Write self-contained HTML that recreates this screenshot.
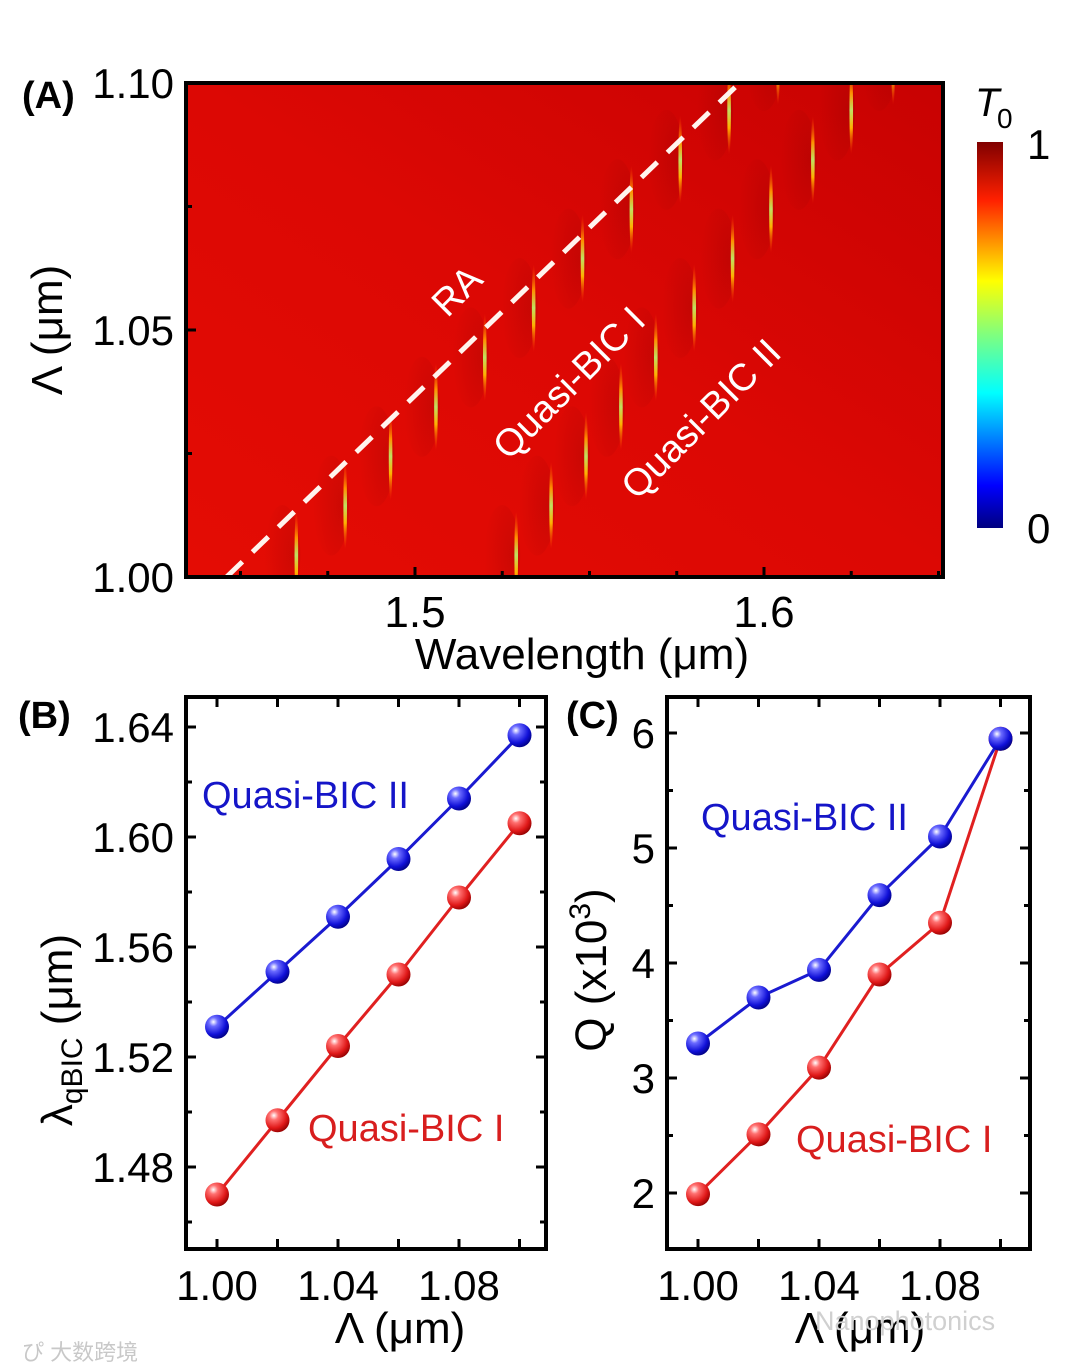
<!DOCTYPE html>
<html><head><meta charset="utf-8">
<style>
html,body{margin:0;padding:0;background:#fff;}
svg{display:block;font-family:"Liberation Sans",Arial,sans-serif;}
</style></head>
<body>
<svg id="fig" width="1080" height="1371" viewBox="0 0 1080 1371" xmlns="http://www.w3.org/2000/svg">
<defs>
  <linearGradient id="bgA" x1="0" y1="1" x2="1" y2="0">
    <stop offset="0" stop-color="#e40c04"/>
    <stop offset="0.5" stop-color="#dc0804"/>
    <stop offset="1" stop-color="#c80202"/>
  </linearGradient>
  <linearGradient id="jet" x1="0" y1="1" x2="0" y2="0">
    <stop offset="0" stop-color="#00007f"/>
    <stop offset="0.11" stop-color="#0000ff"/>
    <stop offset="0.35" stop-color="#00ffff"/>
    <stop offset="0.5" stop-color="#7fff7f"/>
    <stop offset="0.64" stop-color="#ffff00"/>
    <stop offset="0.85" stop-color="#ff2000"/>
    <stop offset="1" stop-color="#800000"/>
  </linearGradient>
  <linearGradient id="streak" x1="0" y1="0" x2="0" y2="1">
    <stop offset="0" stop-color="#ff4000" stop-opacity="0"/>
    <stop offset="0.3" stop-color="#ff9000"/>
    <stop offset="0.5" stop-color="#c0e060"/>
    <stop offset="0.7" stop-color="#ffb000"/>
    <stop offset="1" stop-color="#ff4000" stop-opacity="0"/>
  </linearGradient>
  <radialGradient id="ballB" cx="0.35" cy="0.3" r="0.75">
    <stop offset="0" stop-color="#ffffff"/>
    <stop offset="0.25" stop-color="#6a6aff"/>
    <stop offset="0.7" stop-color="#1010d8"/>
    <stop offset="1" stop-color="#000080"/>
  </radialGradient>
  <radialGradient id="ballR" cx="0.35" cy="0.3" r="0.75">
    <stop offset="0" stop-color="#ffffff"/>
    <stop offset="0.25" stop-color="#ff7070"/>
    <stop offset="0.7" stop-color="#e01818"/>
    <stop offset="1" stop-color="#900000"/>
  </radialGradient>
  <radialGradient id="shadow" cx="0.8" cy="0.5" r="0.8">
    <stop offset="0" stop-color="#700000" stop-opacity="0.18"/>
    <stop offset="1" stop-color="#700000" stop-opacity="0"/>
  </radialGradient>
  <clipPath id="clipA"><rect x="186" y="83" width="757" height="494"/></clipPath>
</defs>
<g id="panelA"></g>
<g id="panelB"></g>
<g id="panelC"></g>
<text x="22" y="1360" font-size="22" fill="#c8c8c8" font-family="'Liberation Sans','Noto Sans CJK SC',sans-serif">ぴ 大数跨境</text>
<text x="815" y="1330" font-size="27" fill="#d0d0d0">Nanophotonics</text>
</svg>
<script>
// Panel A data
const streakPeriods1 = [1.00,1.01,1.02,1.03,1.04,1.05,1.06,1.07,1.08,1.09,1.10];
const streakLambda1 = [1.466,1.480,1.493,1.506,1.520,1.534,1.548,1.562,1.576,1.590,1.604];
const streakPeriods2 = [1.00,1.01,1.02,1.03,1.04,1.05,1.06,1.07,1.08,1.09,1.10];
const streakLambda2 = [1.529,1.539,1.549,1.559,1.569,1.580,1.591,1.602,1.614,1.625,1.637];
const raLambda = [1.4460,1.5930];
const raPeriod = [1.00,1.10];
const aXTicks = [1.5,1.6];
const aYTicks = [1.00,1.05,1.10];
// Panel B data
const periods = [1.00,1.02,1.04,1.06,1.08,1.10];
const lambdaII = [1.531,1.551,1.571,1.592,1.614,1.637];
const lambdaI = [1.470,1.497,1.524,1.550,1.578,1.605];
const bXTicks = [1.00,1.04,1.08];
const bYTicks = [1.48,1.52,1.56,1.60,1.64];
// Panel C data
const qII = [3.30,3.70,3.94,4.59,5.10,5.95];
const qI = [1.99,2.51,3.09,3.90,4.35,5.95];
const cYTicks = [2,3,4,5,6];

const NS="http://www.w3.org/2000/svg";
function mk(parent,tag,attrs,text){const e=document.createElementNS(NS,tag);for(const k in attrs)e.setAttribute(k,attrs[k]);if(text!==undefined)e.textContent=text;parent.appendChild(e);return e;}
function lin(d0,d1,r0,r1){return v=>r0+(v-d0)*(r1-r0)/(d1-d0);}

// ---------- Panel A ----------
(function(){
const g=document.getElementById('panelA');
const X=lin(1.5,1.6,415,764), Y=lin(1.00,1.10,577,83);
let e=mk(g,'rect',{x:186,y:83,width:757,height:494,fill:'url(#bgA)'});

const cg=mk(g,'g',{'clip-path':'url(#clipA)'});
function drawStreaks(P,L,name){
  for(let i=0;i<P.length;i++){
    const x=X(L[i]), y=Y(P[i])-22;
    mk(cg,'ellipse',{cx:x-14,cy:y,rx:18,ry:50,fill:'url(#shadow)'});
    e=mk(cg,'ellipse',{cx:x,cy:y,rx:1.8,ry:44,fill:'url(#streak)'});
    
    
  }
}
drawStreaks(streakPeriods1,streakLambda1,'streak-quasi-bic-i');
drawStreaks(streakPeriods2,streakLambda2,'streak-quasi-bic-ii');
e=mk(cg,'line',{x1:X(raLambda[0]),y1:Y(raPeriod[0]),x2:X(raLambda[1]),y2:Y(raPeriod[1]),stroke:'#fff4ee','stroke-width':5,'stroke-dasharray':'22 14'});

e=mk(g,'rect',{x:186,y:83,width:757,height:494,fill:'none',stroke:'#000','stroke-width':4});

for(let v=1.45;v<=1.65;v+=0.025){const x=X(v);if(x<188||x>941)continue;const big=Math.abs(v*10-Math.round(v*10))<1e-6;mk(g,'line',{x1:x,y1:577,x2:x,y2:577-(big?10:6),stroke:'#000','stroke-width':3});}
for(let v=1.00;v<=1.1001;v+=0.025){const y=Y(v);mk(g,'line',{x1:186,y1:y,x2:186+(Math.abs(v*20-Math.round(v*20))<1e-6?10:6),y2:y,stroke:'#000','stroke-width':3});}
aXTicks.forEach(v=>{e=mk(g,'text',{x:X(v),y:627,'font-size':44,'text-anchor':'middle'},v.toFixed(1));});
aYTicks.forEach(v=>{e=mk(g,'text',{x:174,y:Y(v)+15,'font-size':42,'text-anchor':'end'},v.toFixed(2));});
e=mk(g,'text',{x:582,y:669,'font-size':44,'text-anchor':'middle'},'Wavelength (μm)');
e=mk(g,'text',{x:0,y:0,'font-size':44,'text-anchor':'middle',transform:'translate(62,330) rotate(-90)'},'Λ (μm)');
e=mk(g,'text',{x:22,y:108,'font-size':38,'font-weight':'bold'},'(A)');
e=mk(g,'text',{x:0,y:0,'font-size':38,fill:'#fff','text-anchor':'middle',transform:'translate(466,300) rotate(-45)'},'RA');
e=mk(g,'text',{x:0,y:0,'font-size':38,fill:'#fff','text-anchor':'middle',transform:'translate(578,392) rotate(-45)'},'Quasi-BIC I');
e=mk(g,'text',{x:0,y:0,'font-size':38,fill:'#fff','text-anchor':'middle',transform:'translate(710,428) rotate(-45)'},'Quasi-BIC II');
e=mk(g,'rect',{x:977,y:142,width:26,height:386,fill:'url(#jet)'});
e=mk(g,'text',{x:1027,y:159,'font-size':42},'1');
e=mk(g,'text',{x:1027,y:543,'font-size':42},'0');
e=mk(g,'text',{x:975,y:116,'font-size':40,'font-style':'italic'},'T');
mk(g,'text',{x:997,y:128,'font-size':28},'0');
})();

// ---------- line panels ----------
function linePanel(gid,x0,x1,titleX,xd0,xd1,yd0,yd1,yTicks,yFmt,yMinorStep,s1,s2){
  const g=document.getElementById(gid);
  const X=lin(xd0[0],xd0[1],xd1[0],xd1[1]), Y=lin(yd0[0],yd0[1],yd1[0],yd1[1]);
  let e=mk(g,'rect',{x:x0,y:697,width:x1-x0,height:552,fill:'none',stroke:'#000','stroke-width':4});
  
  periods.forEach(v=>{const x=X(v);mk(g,'line',{x1:x,y1:1249,x2:x,y2:1239,stroke:'#000','stroke-width':3});mk(g,'line',{x1:x,y1:697,x2:x,y2:707,stroke:'#000','stroke-width':3});});
  const lo=yTicks[0]-yMinorStep*2, hi=yTicks[yTicks.length-1]+yMinorStep;
  for(let v=lo;v<=hi+1e-9;v+=yMinorStep){const y=Y(v);if(y<699||y>1247)continue;const big=yTicks.some(t=>Math.abs(t-v)<1e-6);const L=big?10:6;
    mk(g,'line',{x1:x0,y1:y,x2:x0+L,y2:y,stroke:'#000','stroke-width':3});mk(g,'line',{x1:x1,y1:y,x2:x1-L,y2:y,stroke:'#000','stroke-width':3});}
  bXTicks.forEach(v=>{e=mk(g,'text',{x:X(v),y:1300,'font-size':42,'text-anchor':'middle'},v.toFixed(2));});
  yTicks.forEach(v=>{e=mk(g,'text',{x:x0-12,y:Y(v)+15,'font-size':42,'text-anchor':'end'},yFmt(v));});
  e=mk(g,'text',{x:titleX,y:1343,'font-size':44,'text-anchor':'middle'},'Λ (μm)');
  [s1,s2].forEach(s=>{
    const pts=periods.map((p,i)=>X(p)+','+Y(s.v[i])).join(' ');
    e=mk(g,'polyline',{points:pts,fill:'none',stroke:s.c,'stroke-width':3});
    
    periods.forEach((p,i)=>{e=mk(g,'circle',{cx:X(p),cy:Y(s.v[i]),r:12,fill:s.f});
      });
  });
  return {g,X,Y};
}
(function(){
const r=linePanel('panelB',186,546,400,[1.00,1.04],[217,338],[1.64,1.48],[727,1167],bYTicks,v=>v.toFixed(2),0.02,
 {v:lambdaI,c:'#e02020',f:'url(#ballR)',n:'quasi-bic-i'},{v:lambdaII,c:'#1a1ad0',f:'url(#ballB)',n:'quasi-bic-ii'});
const g=r.g;let e;
e=mk(g,'text',{x:202,y:808,'font-size':38,fill:'#1515c8'},'Quasi-BIC II');
e=mk(g,'text',{x:308,y:1141,'font-size':38,fill:'#d81e1e'},'Quasi-BIC I');
e=mk(g,'text',{x:18,y:728,'font-size':38,'font-weight':'bold'},'(B)');
e=mk(g,'text',{x:0,y:0,'font-size':44,'text-anchor':'middle',transform:'translate(72,1030) rotate(-90)'},'');

mk(e,'tspan',{},'λ');mk(e,'tspan',{'font-size':30,dy:10},'qBIC');mk(e,'tspan',{dy:-10},' (μm)');
})();
(function(){
const r=linePanel('panelC',667,1030,860,[1.00,1.04],[698,819],[6,2],[733,1193],cYTicks,v=>String(v),0.5,
 {v:qI,c:'#e02020',f:'url(#ballR)',n:'quasi-bic-i'},{v:qII,c:'#1a1ad0',f:'url(#ballB)',n:'quasi-bic-ii'});
const g=r.g;let e;
e=mk(g,'text',{x:701,y:830,'font-size':38,fill:'#1515c8'},'Quasi-BIC II');
e=mk(g,'text',{x:796,y:1152,'font-size':38,fill:'#d81e1e'},'Quasi-BIC I');
e=mk(g,'text',{x:566,y:728,'font-size':38,'font-weight':'bold'},'(C)');
e=mk(g,'text',{x:0,y:0,'font-size':44,'text-anchor':'middle',transform:'translate(606,970) rotate(-90)'},'');

mk(e,'tspan',{},'Q (x10');mk(e,'tspan',{'font-size':30,dy:-16},'3');mk(e,'tspan',{dy:16},')');
})();
</script>
</body></html>
